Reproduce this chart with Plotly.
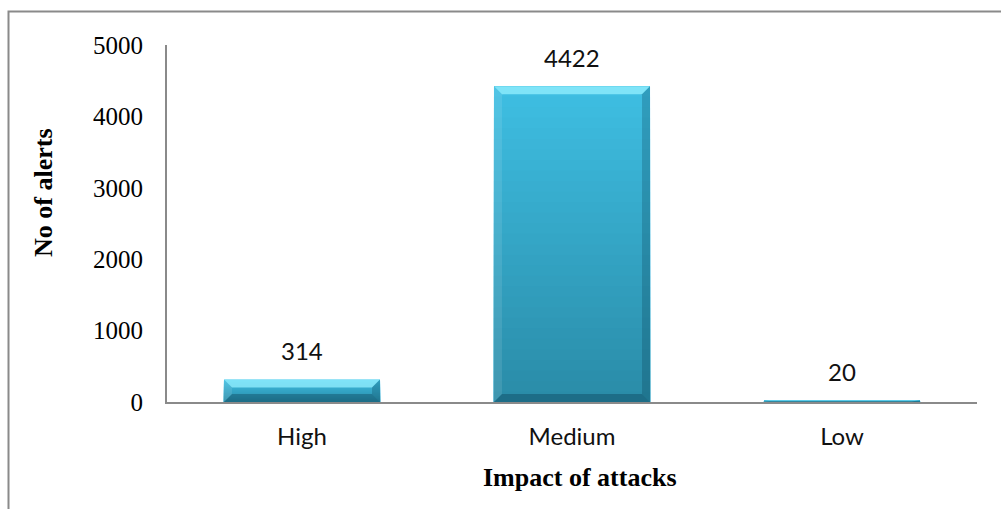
import plotly.graph_objects as go

# Alert counts per attack impact level
categories = ["High", "Medium", "Low"]
alerts = [314, 4422, 20]
y_ticks = [0, 1000, 2000, 3000, 4000, 5000]

W, H = 1001, 509
M_L, M_R, M_T, M_B = 167, 24, 45, 107
PLOT_W = W - M_L - M_R
PLOT_H = H - M_T - M_B
Y_MAX = 5000
BAR_W = 0.578

SERIF = "Liberation Serif"
SANS = "Lato"

xs = list(range(len(categories)))

fig = go.Figure()
fig.add_trace(go.Bar(
    x=xs, y=alerts, width=BAR_W,
    marker=dict(color="#36AFD1", line=dict(width=0)),
    hoverinfo="x+y",
))

shapes = []
# bevel size in data units (~8 px), clamped to half the bar height
bev_px = 8
bx = bev_px / (PLOT_W / 3)
for i, v in zip(xs, alerts):
    x0, x1 = i - BAR_W / 2, i + BAR_W / 2
    by = min(bev_px * Y_MAX / PLOT_H, v / 2)
    # vertical gradient of the bar body: nested rects from the base, top colour first
    n = 30
    top_c = (62, 190, 226)
    bot_c = (42, 140, 168)
    for k in range(n):
        t = k / (n - 1)
        c = tuple(round(top_c[j] * (1 - t) + bot_c[j] * t) for j in range(3))
        yb = v * (1 - k / n)
        shapes.append(dict(type="rect", xref="x", yref="y", x0=x0, x1=x1, y0=0, y1=yb,
                           fillcolor="rgb(%d,%d,%d)" % c, line=dict(width=0), layer="above"))
    # bevel faces
    faces = [
        ([(x0, v), (x1, v), (x1 - bx, v - by), (x0 + bx, v - by)], "rgba(150,240,255,0.75)"),
        ([(x0, v), (x0 + bx, v - by), (x0 + bx, by), (x0, 0)], "rgba(255,255,255,0.10)"),
        ([(x1, v), (x1 - bx, v - by), (x1 - bx, by), (x1, 0)], "rgba(0,40,60,0.22)"),
        ([(x0, 0), (x0 + bx, by), (x1 - bx, by), (x1, 0)], "rgba(0,40,60,0.30)"),
    ]
    for pts, col in faces:
        path = "M " + " L ".join("%f,%f" % p for p in pts) + " Z"
        shapes.append(dict(type="path", xref="x", yref="y", path=path,
                           fillcolor=col, line=dict(width=0), layer="above"))

# outer frame of the chart area
def px_to_paper_x(px):
    return (px - M_L) / PLOT_W

def px_to_paper_y(py):
    return (H - M_B - py) / PLOT_H

shapes.append(dict(type="rect", xref="paper", yref="paper",
                   x0=px_to_paper_x(8.5), x1=px_to_paper_x(1020),
                   y0=px_to_paper_y(530), y1=px_to_paper_y(11.5),
                   line=dict(color="#8A8A8A", width=2), fillcolor="rgba(0,0,0,0)", layer="below"))

annotations = []
for i, v in zip(xs, alerts):
    annotations.append(dict(x=i, y=v, xref="x", yref="y", text=str(v), showarrow=False,
                            yanchor="middle", yshift=29,
                            font=dict(family=SANS, size=24, color="#111")))

annotations.append(dict(text="Impact of attacks", xref="paper", yref="paper",
                        x=px_to_paper_x(580), y=px_to_paper_y(478), showarrow=False,
                        xanchor="center", yanchor="middle",
                        font=dict(family=SERIF, size=26, color="#000", weight="bold")))
annotations.append(dict(text="No of alerts", xref="paper", yref="paper", textangle=-90,
                        x=px_to_paper_x(43), y=px_to_paper_y(193), showarrow=False,
                        xanchor="center", yanchor="middle",
                        font=dict(family=SERIF, size=26, color="#000", weight="bold")))

fig.update_layout(
    width=W, height=H,
    margin=dict(l=M_L, r=M_R, t=M_T, b=M_B),
    paper_bgcolor="white", plot_bgcolor="white",
    showlegend=False, bargap=0,
    shapes=shapes, annotations=annotations,
    xaxis=dict(range=[-0.5, 2.5], tickvals=xs, ticktext=categories,
               showgrid=False, zeroline=False, showline=True,
               linecolor="#8A8A8A", linewidth=2, ticks="",
               ticklabelstandoff=12,
               tickfont=dict(family=SANS, size=24, color="#111")),
    yaxis=dict(range=[0, Y_MAX], tickvals=y_ticks, showgrid=False, zeroline=False,
               showline=True, linecolor="#8A8A8A", linewidth=2, ticks="",
               ticklabelstandoff=17,
               tickfont=dict(family=SERIF, size=25, color="#000", weight="normal")),
)

fig.write_html("out.html")
